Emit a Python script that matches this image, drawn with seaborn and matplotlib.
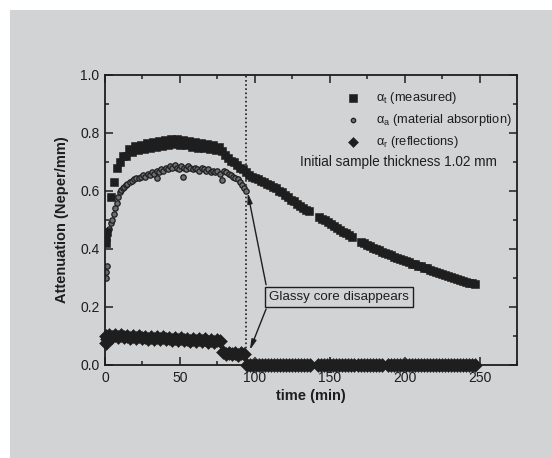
import numpy as np
import pandas as pd
import matplotlib
matplotlib.use("Agg")
import matplotlib.pyplot as plt
from matplotlib.patches import Rectangle
from matplotlib.ticker import MultipleLocator
import seaborn as sns

# measured attenuation (squares), gaps in the record at ~137-143 and ~166-171 min
meas_t = [0.5, 1, 1.5,
          4, 6, 8, 10, 12, 14, 16, 18, 20, 22, 24, 26, 28, 30, 32, 34, 36, 38,
          40, 42, 44, 46, 48, 50, 52, 54, 56, 58, 60, 62, 64, 66, 68, 70, 72, 74,
          76, 78, 80, 82, 84, 86, 88, 90, 92, 94, 96, 98, 100, 102, 104, 106, 108,
          110, 112, 114, 116, 118, 120, 122, 124, 126, 128, 130, 132, 134, 136,
          143, 145, 147, 149, 151, 153, 155, 157, 159, 161, 163, 165,
          171, 173, 175, 177, 179, 181, 183, 185, 187, 189, 191, 193, 195, 197,
          199, 201, 203, 205, 207, 209, 211, 213, 215, 217, 219, 221, 223, 225,
          227, 229, 231, 233, 235, 237, 239, 241, 243, 245, 247]
meas_v = [0.42, 0.44, 0.46,
          0.58, 0.63, 0.68, 0.70, 0.72, 0.72, 0.745, 0.735, 0.755, 0.74, 0.76,
          0.745, 0.765, 0.75, 0.768, 0.752, 0.772, 0.755, 0.775, 0.76, 0.778, 0.762,
          0.778, 0.76, 0.775, 0.758, 0.772, 0.752, 0.77, 0.75, 0.765, 0.748, 0.762,
          0.745, 0.76, 0.742, 0.752, 0.738, 0.725, 0.715, 0.705, 0.70, 0.69, 0.68,
          0.675, 0.665, 0.655, 0.65, 0.645, 0.64, 0.635, 0.63, 0.625, 0.62, 0.615,
          0.61, 0.60, 0.595, 0.585, 0.58, 0.57, 0.565, 0.555, 0.55, 0.54, 0.535, 0.53,
          0.51, 0.505, 0.50, 0.493, 0.486, 0.48, 0.473, 0.467, 0.46, 0.455, 0.449, 0.443,
          0.425, 0.42, 0.415, 0.41, 0.405, 0.40, 0.396, 0.391, 0.387, 0.382, 0.378,
          0.374, 0.37, 0.366, 0.362, 0.358, 0.354, 0.35, 0.347, 0.343, 0.34, 0.336,
          0.333, 0.329, 0.325, 0.322, 0.318, 0.315, 0.311, 0.308, 0.304, 0.301,
          0.297, 0.294, 0.29, 0.287, 0.284, 0.282, 0.28]

# material absorption (small circles), only visible before the core disappears
abs_t = [0.5, 1, 1.5, 3, 4, 5, 6, 7, 8, 9, 10, 11, 12, 13, 14, 15, 16.5, 18, 19.5,
         21, 22.5, 24, 25.5, 27, 28.5, 30, 31.5, 33, 34.5, 35, 36, 37.5, 39, 40.5,
         42, 43.5, 45, 46.5, 48, 49.5, 51, 52, 52.5, 54, 55.5, 57, 58.5, 60, 61.5,
         63, 64.5, 66, 67.5, 69, 70.5, 72, 73.5, 75, 76.5, 78, 79.5, 81, 82.5, 84,
         85.5, 87, 88.5, 90, 91.5, 93, 94]
abs_v = [0.30, 0.32, 0.34, 0.47, 0.49, 0.50, 0.52, 0.54, 0.56, 0.58, 0.595, 0.605,
         0.61, 0.615, 0.62, 0.625, 0.63, 0.635, 0.64, 0.645, 0.645, 0.65, 0.655, 0.65,
         0.66, 0.655, 0.665, 0.66, 0.67, 0.645, 0.665, 0.675, 0.67, 0.68, 0.675,
         0.685, 0.68, 0.69, 0.68, 0.675, 0.685, 0.649, 0.68, 0.675, 0.685, 0.68,
         0.675, 0.68, 0.675, 0.67, 0.68, 0.675, 0.67, 0.675, 0.665, 0.67, 0.665,
         0.67, 0.66, 0.638, 0.67, 0.665, 0.66, 0.655, 0.65, 0.645, 0.64, 0.63, 0.62,
         0.61, 0.60]

# reflections (diamonds)
refl_t = [0.5, 1, 1.5, 3, 5, 7, 9, 11, 13, 15, 17, 19, 21, 23, 25, 27, 29, 31, 33,
          35, 37, 39, 41, 43, 45, 47, 49, 51, 53, 55, 57, 59, 61, 63, 65, 67, 69,
          71, 73, 75, 77, 79, 81, 83, 85, 87, 89, 91, 93]
refl_v = [0.075, 0.10, 0.09, 0.105, 0.098, 0.104, 0.096, 0.102, 0.095, 0.101, 0.094,
          0.100, 0.093, 0.099, 0.092, 0.098, 0.091, 0.097, 0.090, 0.096, 0.089,
          0.095, 0.088, 0.094, 0.087, 0.093, 0.086, 0.092, 0.085, 0.091, 0.084, 0.090,
          0.083, 0.089, 0.082, 0.088, 0.081, 0.087, 0.080, 0.086, 0.082,
          0.044, 0.038, 0.043, 0.037, 0.042, 0.036, 0.041, 0.037]
# after ~95 min the reflection term is zero (same gaps as the record)
refl_zero_t = [95, 97, 99, 101, 103, 105, 107, 109, 111, 113, 115, 117, 119, 121,
               123, 125, 127, 129, 131, 133, 135, 137,
               142, 144, 146, 148, 150, 152, 154, 156, 158, 160, 162, 164, 166,
               169, 171, 173, 175, 177, 179, 181, 183, 185,
               189, 191, 193, 195, 197, 199, 201, 203, 205, 207, 209, 211, 213, 215,
               217, 219, 221, 223, 225, 227, 229, 231, 233, 235, 237, 239, 241, 243,
               245, 247]
refl_zero_v = [0.0] * len(refl_zero_t)

core_gone_t = 94

sns.set_style("ticks")
plt.rcParams['font.family'] = ['Liberation Sans', 'DejaVu Sans']
plt.rcParams['mathtext.fontset'] = 'custom'
plt.rcParams['mathtext.rm'] = 'Liberation Sans'
plt.rcParams['mathtext.it'] = 'Liberation Sans'
plt.rcParams['mathtext.bf'] = 'Liberation Sans:bold'

bg = '#d2d3d5'
ink = '#1e1e1e'

fig = plt.figure(figsize=(5.52, 4.58), dpi=100)
fig.patch.set_facecolor('white')
fig.patches.append(Rectangle((10 / 552, 0), 1, 448 / 458, transform=fig.transFigure,
                             facecolor=bg, edgecolor='none', zorder=-10))
ax = fig.add_axes([105 / 552, 93 / 458, 412 / 552, 290 / 458])
ax.set_facecolor(bg)

refl_all = pd.DataFrame({'t': refl_t + refl_zero_t, 'v': refl_v + refl_zero_v})
sns.scatterplot(data=pd.DataFrame({'t': meas_t, 'v': meas_v}), x='t', y='v', ax=ax,
                marker='s', s=40, color=ink, edgecolor=ink, linewidth=0.4,
                label=r'$\alpha_t$ (measured)', zorder=3)
sns.scatterplot(data=pd.DataFrame({'t': abs_t, 'v': abs_v}), x='t', y='v', ax=ax,
                marker='o', s=15, color='#6e6e6e', edgecolor=ink, linewidth=0.9,
                label=r'$\alpha_a$ (material absorption)', zorder=2)
sns.scatterplot(data=refl_all, x='t', y='v', ax=ax,
                marker='D', s=50, color=ink, edgecolor=ink, linewidth=0.4,
                label=r'$\alpha_r$ (reflections)', zorder=3, clip_on=False)

ax.axvline(core_gone_t, color=ink, ls=(0, (1, 1.5)), lw=1.2, zorder=1)

ax.set_xlim(0, 275)
ax.set_ylim(0, 1.0)
ax.xaxis.set_major_locator(MultipleLocator(50))
ax.xaxis.set_minor_locator(MultipleLocator(25))
ax.yaxis.set_major_locator(MultipleLocator(0.2))
ax.yaxis.set_minor_locator(MultipleLocator(0.1))
ax.tick_params(which='both', direction='in', top=True, right=True, width=1.1,
               color=ink, labelsize=10, labelcolor=ink)
ax.tick_params(which='major', length=5.5, pad=4)
ax.tick_params(which='minor', length=3)
for sp in ax.spines.values():
    sp.set_linewidth(1.3)
    sp.set_color(ink)

ax.set_xlabel('time (min)', fontsize=10.5, fontweight='bold', color=ink, labelpad=3)
ax.set_ylabel('Attenuation (Neper/mm)', fontsize=10.5, fontweight='bold', color=ink,
              labelpad=8)

leg = ax.legend(loc='upper right', bbox_to_anchor=(1.0, 0.965), frameon=False,
                fontsize=9.3, handletextpad=1.2, labelspacing=0.45, borderpad=0.2,
                handlelength=1.2, borderaxespad=0.2)
for txt in leg.get_texts():
    txt.set_color(ink)
for h, sz in zip(leg.legend_handles, [30, 10, 26]):
    h.set_sizes([sz])

ax.text(261.5, 0.70, 'Initial sample thickness 1.02 mm', ha='right', va='center',
        fontsize=9.8, color=ink)

ax.text(156, 0.234, 'Glassy core disappears', ha='center', va='center', fontsize=9.6,
        color=ink, bbox=dict(boxstyle='square,pad=0.3', facecolor=bg, edgecolor=ink,
                             linewidth=1.0))
arrow = dict(arrowstyle='-|>,head_length=0.6,head_width=0.15', color=ink, lw=1.0,
             shrinkA=0, shrinkB=0)
ax.annotate('', xy=(95.3, 0.593), xytext=(107.5, 0.277), arrowprops=arrow)
ax.annotate('', xy=(96.7, 0.052), xytext=(107.5, 0.193), arrowprops=arrow)

fig.savefig('out.png', dpi=100, facecolor=fig.get_facecolor())
